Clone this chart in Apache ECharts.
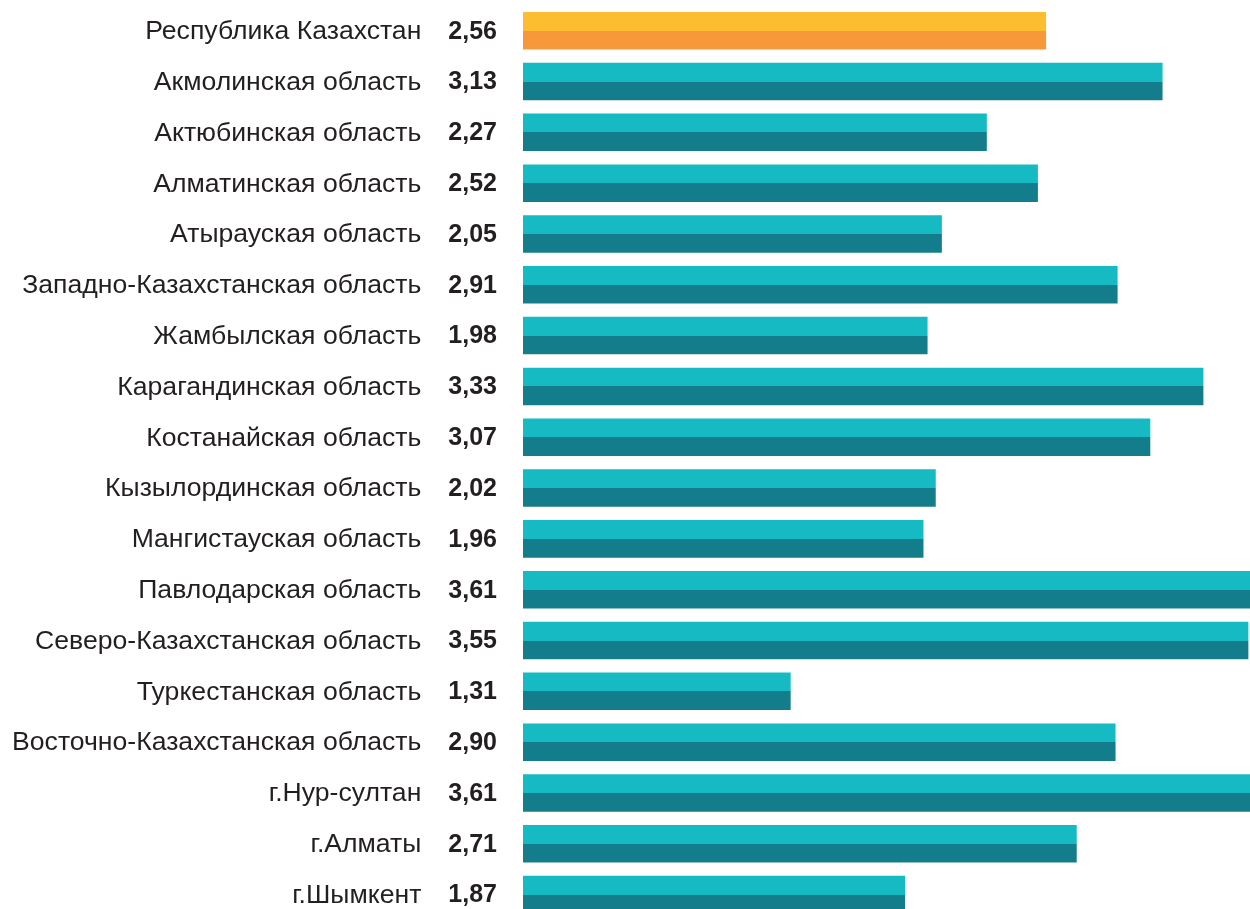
<!DOCTYPE html>
<html><head><meta charset="utf-8">
<script src="https://cdn.jsdelivr.net/npm/echarts@6/dist/echarts.min.js"></script>
<style>html,body{margin:0;padding:0;background:#fff;overflow:hidden}#c{width:1250px;height:920px}</style>
</head><body><div id="c"></div>
<script>
const categories = ["Республика Казахстан","Акмолинская область","Актюбинская область","Алматинская область","Атырауская область","Западно-Казахстанская область","Жамбылская область","Карагандинская область","Костанайская область","Кызылординская область","Мангистауская область","Павлодарская область","Северо-Казахстанская область","Туркестанская область","Восточно-Казахстанская область","г.Нур-султан","г.Алматы","г.Шымкент"];
const values = [2.56,3.13,2.27,2.52,2.05,2.91,1.98,3.33,3.07,2.02,1.96,3.61,3.55,1.31,2.90,3.61,2.71,1.87];

function grad(a,b){return new echarts.graphic.LinearGradient(0,0,0,1,[{offset:0,color:a},{offset:0.5,color:a},{offset:0.5,color:b},{offset:1,color:b}]);}
const teal = grad('#15BAC2','#147D8C');
const orange = grad('#FDBD30','#F7993A');
const FF = '"Liberation Sans", Arial, Helvetica, sans-serif';
const chart = echarts.init(document.getElementById('c'));
chart.setOption({
  animation:false,
  textStyle:{fontFamily:FF},
  grid:{left:523,right:0,top:5.3,bottom:0,containLabel:false},
  xAxis:{type:'value',min:0,max:3.558,show:false},
  yAxis:{type:'category',inverse:true,data:categories,
    axisLine:{show:false},axisTick:{show:false},
    axisLabel:{margin:26,align:'right',fontFamily:FF,fontSize:26.6,color:'#231F20',
      formatter:function(v,i){return '{n|'+v+'}{v|'+values[i].toFixed(2).replace('.',',')+'}';},
      rich:{n:{fontFamily:FF,fontSize:26.6,color:'#231F20',padding:[2,27,0,0]},
            v:{fontFamily:FF,fontSize:25,fontWeight:'bold',color:'#231F20',padding:[2,0,0,0]}}}},
  series:[{type:'bar',barWidth:'73.8%',clip:true,
    data:values.map((v,i)=>({value:v,itemStyle:{color:i===0?orange:teal}}))}]
});
</script></body></html>
